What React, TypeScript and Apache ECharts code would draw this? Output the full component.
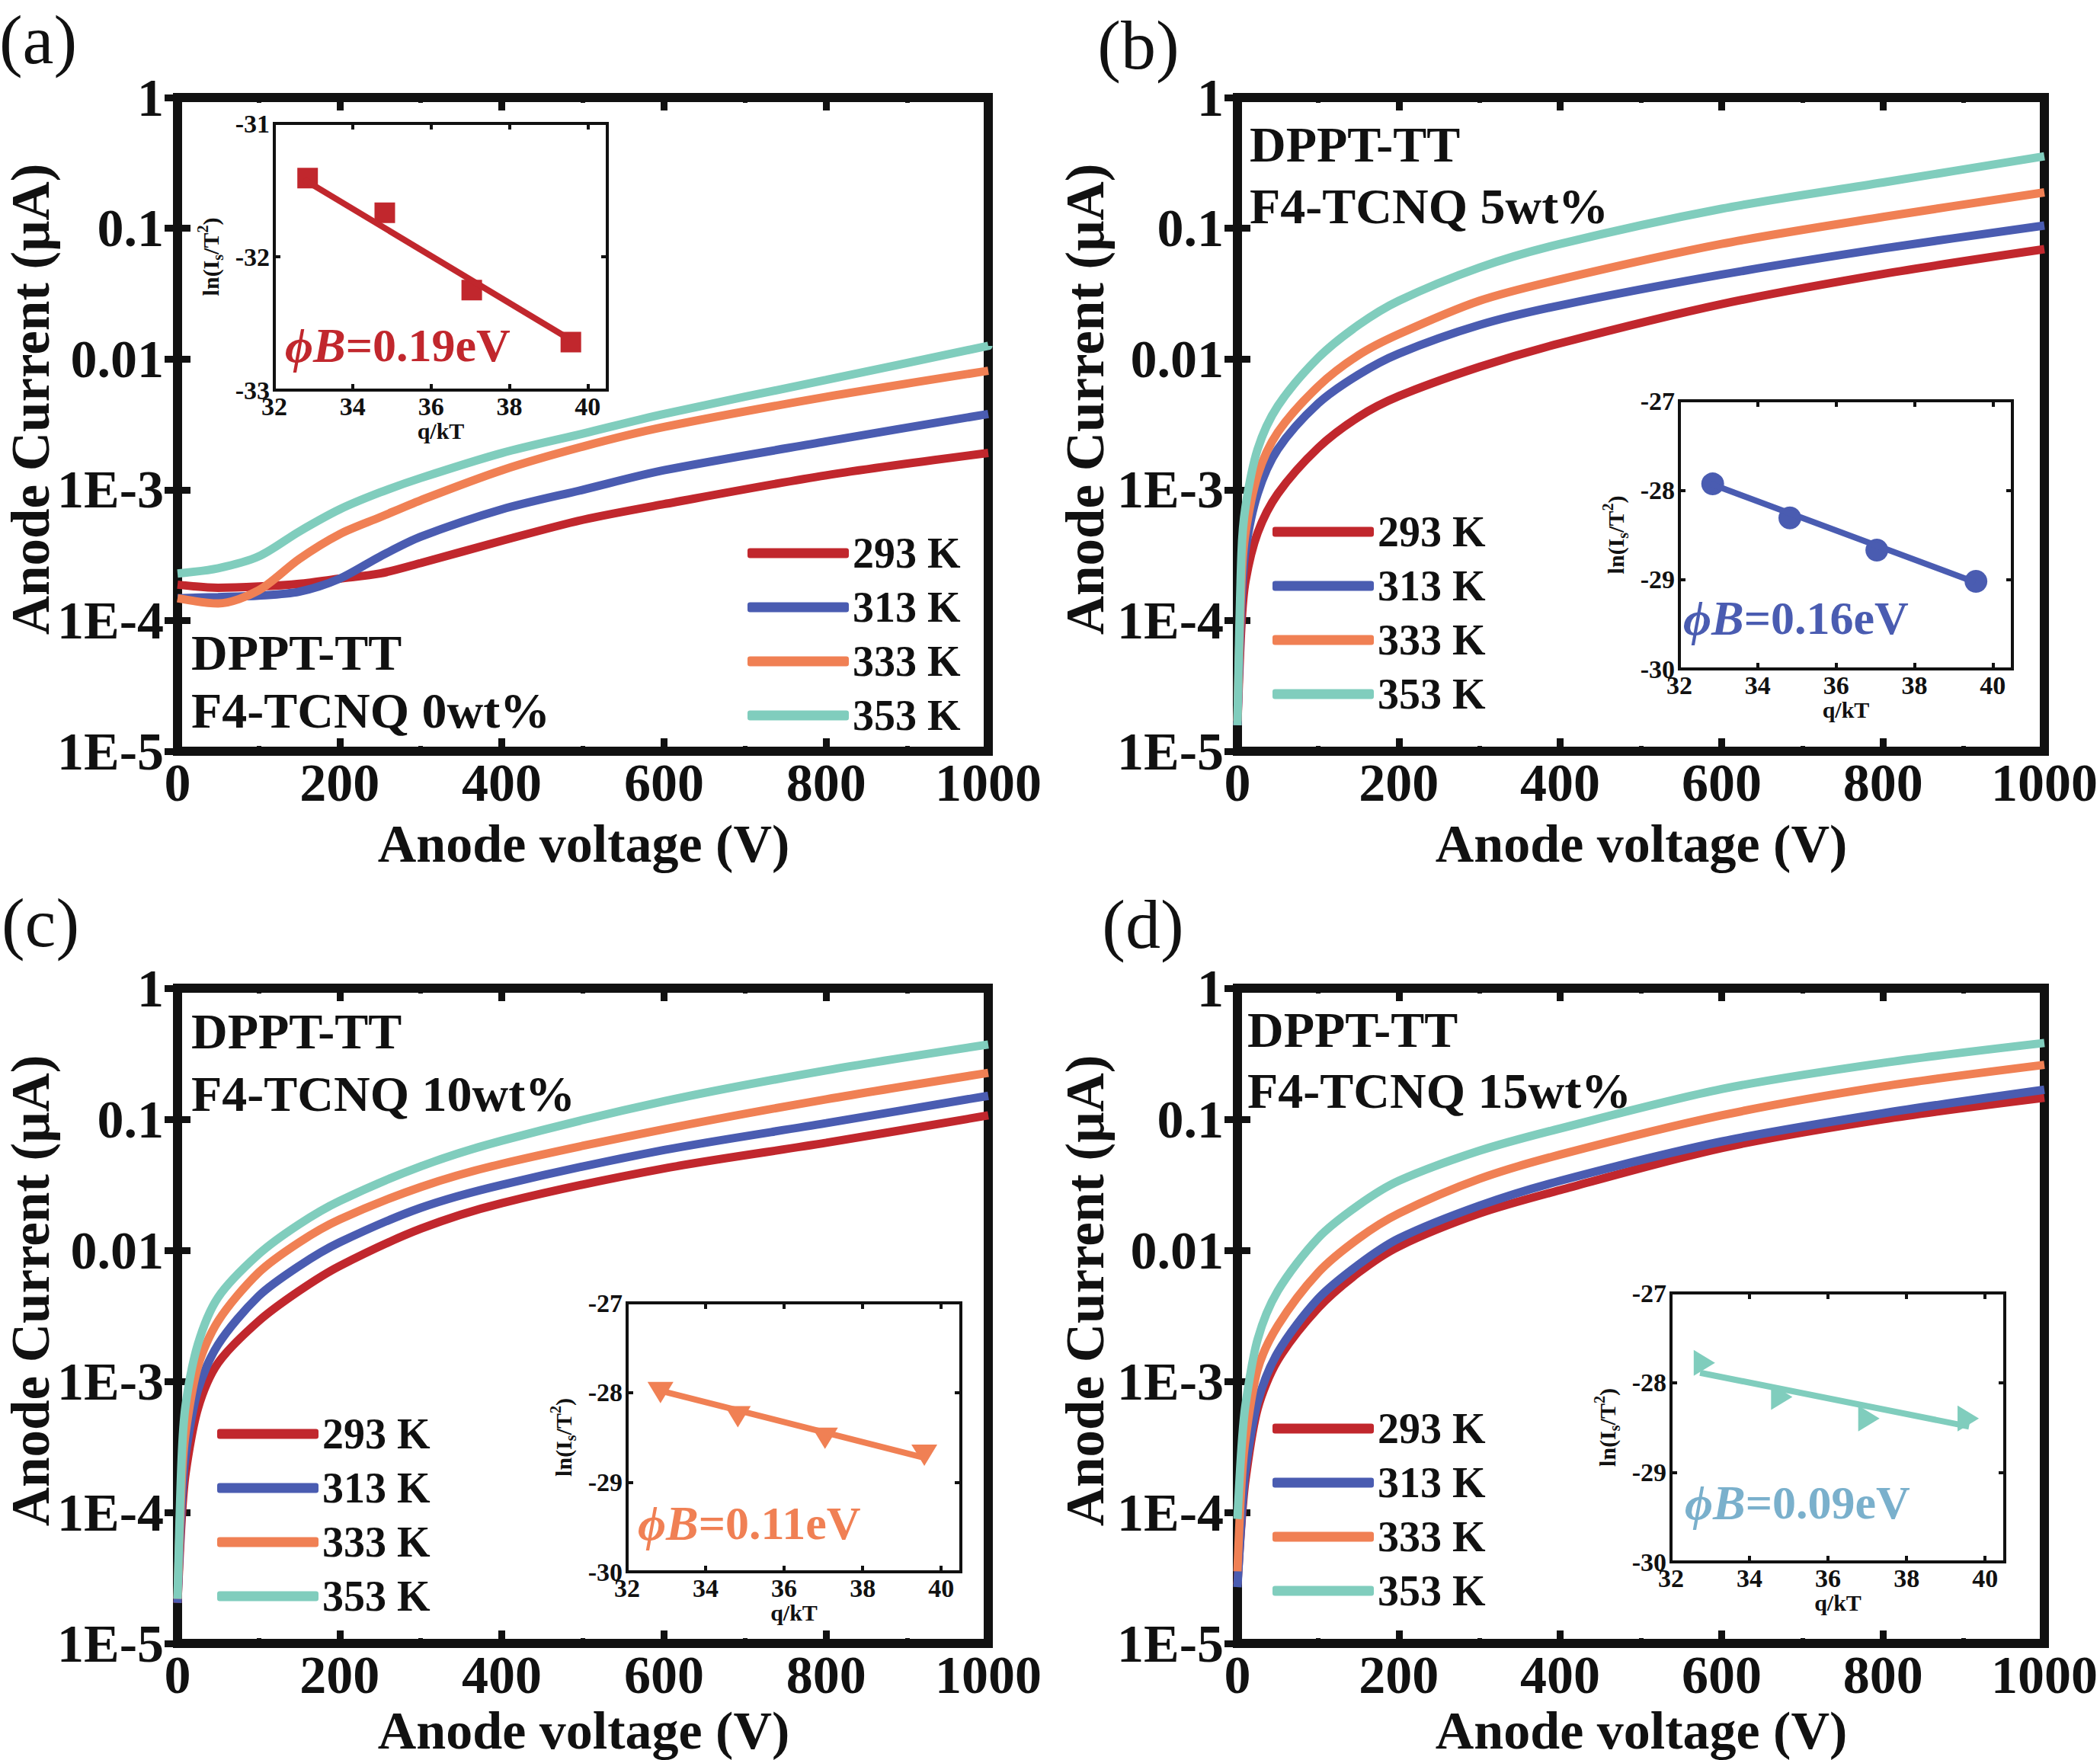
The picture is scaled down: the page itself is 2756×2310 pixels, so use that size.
import { useEffect, useRef } from "react";
import * as echarts from "echarts";

const FONT = '"Liberation Serif", "Times New Roman", serif';
const INK = "#111";

const temps = ["293 K", "313 K", "333 K", "353 K"];
const colors = ["#c1272d", "#4a5cb1", "#f08054", "#80cdbd"];
const yTickLabels = ["1E-5", "1E-4", "1E-3", "0.01", "0.1", "1"];

// anode voltage samples (V)
const voltsA = [0, 50, 100, 150, 200, 250, 300, 400, 500, 600, 800, 1000];
const voltsDoped = [0, 5, 10, 25, 50, 100, 150, 200, 300, 400, 600, 800, 1000];

// (a) F4-TCNQ 0wt%, anode current (uA)
const a293 = [1.88e-4, 1.78e-4, 1.82e-4, 1.91e-4, 2.09e-4, 2.29e-4, 2.75e-4, 4.07e-4, 5.89e-4, 7.76e-4, 1.29e-3, 1.91e-3];
const a313 = [1.48e-4, 1.51e-4, 1.55e-4, 1.66e-4, 2.09e-4, 3.09e-4, 4.37e-4, 7.08e-4, 1.0e-3, 1.41e-3, 2.34e-3, 3.8e-3];
const a333 = [1.48e-4, 1.35e-4, 1.7e-4, 2.95e-4, 4.57e-4, 6.17e-4, 8.32e-4, 1.41e-3, 2.14e-3, 3.02e-3, 5.13e-3, 8.13e-3];
const a353 = [2.29e-4, 2.51e-4, 3.09e-4, 4.79e-4, 7.08e-4, 9.55e-4, 1.23e-3, 1.91e-3, 2.69e-3, 3.8e-3, 6.92e-3, 1.26e-2];

// (b) 5wt%
const b293 = [1.58e-5, 9.3e-5, 2.0e-4, 4.68e-4, 9.33e-4, 2.09e-3, 3.6e-3, 5.2e-3, 8.7e-3, 1.32e-2, 2.63e-2, 4.47e-2, 6.92e-2];
const b313 = [1.58e-5, 1.38e-4, 3.47e-4, 9.33e-4, 2.04e-3, 4.57e-3, 7.59e-3, 1.1e-2, 1.82e-2, 2.57e-2, 4.42e-2, 7.0e-2, 0.105];
const b333 = [1.7e-5, 2.0e-4, 4.68e-4, 1.29e-3, 2.75e-3, 6.17e-3, 1.07e-2, 1.55e-2, 2.79e-2, 4.07e-2, 7.59e-2, 0.122, 0.188];
const b353 = [1.58e-5, 3.24e-4, 7.41e-4, 2.04e-3, 4.37e-3, 1.02e-2, 1.82e-2, 2.79e-2, 5.01e-2, 7.59e-2, 0.141, 0.224, 0.355];

// (c) 10wt%
const c293 = [2.04e-5, 8.71e-5, 2.0e-4, 6.17e-4, 1.38e-3, 2.88e-3, 4.9e-3, 7.59e-3, 1.46e-2, 2.29e-2, 4.21e-2, 6.61e-2, 0.107];
const c313 = [2.04e-5, 1.12e-4, 2.75e-4, 8.51e-4, 1.91e-3, 4.47e-3, 7.59e-3, 1.15e-2, 2.11e-2, 3.16e-2, 5.82e-2, 9.33e-2, 0.151];
const c333 = [2.19e-5, 1.66e-4, 4.07e-4, 1.29e-3, 2.88e-3, 6.76e-3, 1.15e-2, 1.72e-2, 3.04e-2, 4.57e-2, 8.39e-2, 0.142, 0.226];
const c353 = [2.19e-5, 2.51e-4, 6.61e-4, 1.91e-3, 4.37e-3, 9.33e-3, 1.58e-2, 2.38e-2, 4.37e-2, 6.86e-2, 0.137, 0.236, 0.372];

// (d) 15wt%
const d293 = [2.82e-5, 8.32e-5, 1.78e-4, 6.17e-4, 1.45e-3, 3.63e-3, 6.76e-3, 1.07e-2, 1.91e-2, 2.88e-2, 6.03e-2, 0.1, 0.146];
const d313 = [2.69e-5, 8.91e-5, 2.09e-4, 6.92e-4, 1.66e-3, 4.27e-3, 7.76e-3, 1.23e-2, 2.19e-2, 3.39e-2, 6.76e-2, 0.111, 0.168];
const d333 = [3.55e-5, 1.66e-4, 3.63e-4, 1.23e-3, 2.66e-3, 6.76e-3, 1.23e-2, 1.91e-2, 3.51e-2, 5.37e-2, 0.107, 0.178, 0.26];
const d353 = [8.91e-5, 3.09e-4, 6.61e-4, 2.09e-3, 4.9e-3, 1.24e-2, 2.21e-2, 3.39e-2, 5.75e-2, 8.51e-2, 0.17, 0.269, 0.382];

// insets: ln(Is/T^2) vs q/kT
const qkT = [32.85, 34.82, 37.04, 39.57];
const lnA = [-31.41, -31.67, -32.25, -32.64];
const lnB = [-27.93, -28.31, -28.67, -29.02];
const lnC = [-28.0, -28.27, -28.51, -28.7];
const lnD = [-27.78, -28.16, -28.4, -28.4];
const fitXA = [32.75, 39.55];
const fitYA = [-31.42, -32.62];
const fitXB = [32.8, 39.55];
const fitYB = [-27.93, -29.03];
const fitXC = [32.85, 39.5];
const fitYC = [-27.98, -28.72];
const fitXD = [32.74, 39.59];
const fitYD = [-27.89, -28.49];
const barriers = ["0.19", "0.16", "0.11", "0.09"];
const dopings = ["0wt%", "5wt%", "10wt%", "15wt%"];

const panels = [
    {
        tag: "(a)", tagPos: [50, 52],
        frame: { left: 233, top: 128, width: 1064, height: 858 },
        volts: voltsA, curves: [a293, a313, a333, a353],
        legendPos: [981, 697],
        textPos: [251, 856, 932],
        xTitle: [766, 1107], yTitle: [40, 524],
        inset: { left: 360, top: 162, width: 437, height: 350 },
        inY: [-33, -31], ln: lnA, fitX: fitXA, fitY: fitYA,
        symbol: "rect", symbolSize: 27, rotate: 0,
        phiPos: [374, 453], phiColor: "#c1272d", insetColor: "#c1272d",
    },
    {
        tag: "(b)", tagPos: [1494, 59],
        frame: { left: 1624, top: 128, width: 1060, height: 858 },
        volts: voltsDoped, curves: [b293, b313, b333, b353],
        legendPos: [1670, 669],
        textPos: [1640, 189, 270],
        xTitle: [2154, 1107], yTitle: [1424, 524],
        inset: { left: 2204, top: 526, width: 437, height: 352 },
        inY: [-30, -27], ln: lnB, fitX: fitXB, fitY: fitYB,
        symbol: "circle", symbolSize: 30, rotate: 0,
        phiPos: [2209, 811], phiColor: "#4a5cb1", insetColor: "#4a5cb1",
    },
    {
        tag: "(c)", tagPos: [53, 1211],
        frame: { left: 233, top: 1297, width: 1064, height: 860 },
        volts: voltsDoped, curves: [c293, c313, c333, c353],
        legendPos: [285, 1853],
        textPos: [251, 1353, 1435],
        xTitle: [766, 2271], yTitle: [40, 1694],
        inset: { left: 823, top: 1710, width: 438, height: 353 },
        inY: [-30, -27], ln: lnC, fitX: fitXC, fitY: fitYC,
        symbol: "triangle", symbolSize: [34, 28], rotate: 180,
        phiPos: [837, 1999], phiColor: "#f08054", insetColor: "#f08054",
    },
    {
        tag: "(d)", tagPos: [1500, 1213],
        frame: { left: 1624, top: 1297, width: 1060, height: 860 },
        volts: voltsDoped, curves: [d293, d313, d333, d353],
        legendPos: [1670, 1846],
        textPos: [1637, 1351, 1431],
        xTitle: [2154, 2271], yTitle: [1424, 1694],
        inset: { left: 2193, top: 1697, width: 438, height: 353 },
        inY: [-30, -27], ln: lnD, fitX: fitXD, fitY: fitYD,
        symbol: "triangle", symbolSize: [34, 28], rotate: -90,
        phiPos: [2211, 1972], phiColor: "#7ab0cc", insetColor: "#80cdbd",
    },
];

const bold = (size: number) => ({ fontFamily: FONT, fontWeight: "bold" as const, fontSize: size, color: INK });

function mainX(gridIndex: number, position: "bottom" | "top", labels: boolean) {
    return {
        type: "value", gridIndex, position, min: 0, max: 1000, interval: 200,
        axisLine: { show: false },
        splitLine: { show: false },
        axisTick: { show: true, inside: true, length: 17, lineStyle: { color: INK, width: 9 } },
        minorTick: { show: true, splitNumber: 2, length: 7, lineStyle: { color: INK, width: 6 } },
        axisLabel: {
            show: labels, margin: 13, ...bold(70), lineHeight: 56,
            formatter: (v: number) => String(v),
        },
    };
}

function mainY(gridIndex: number, position: "left" | "right", labels: boolean) {
    return {
        type: "log", logBase: 10, gridIndex, position, min: 1e-5, max: 1, splitNumber: 5,
        axisLine: { show: false },
        splitLine: { show: false },
        axisTick: { show: true, inside: true, length: 17, lineStyle: { color: INK, width: 9 } },
        axisLabel: {
            show: labels, margin: 18, ...bold(70), lineHeight: 60,
            formatter: (v: number) => yTickLabels[Math.round(Math.log10(v)) + 5] ?? "",
        },
    };
}

function insetX(gridIndex: number, position: "bottom" | "top", labels: boolean) {
    return {
        type: "value", gridIndex, position, min: 32, max: 40.5, interval: 2,
        name: labels ? "q/kT" : "", nameLocation: "middle", nameGap: 34,
        nameTextStyle: bold(30),
        axisLine: { show: false },
        splitLine: { show: false },
        axisTick: { show: true, inside: true, length: 8, lineStyle: { color: INK, width: 4 } },
        axisLabel: {
            show: labels, margin: 4, showMaxLabel: false, ...bold(34),
            formatter: (v: number) => (Number.isInteger(v) ? String(v) : ""),
        },
    };
}

function insetY(gridIndex: number, position: "left" | "right", labels: boolean, range: number[]) {
    return {
        type: "value", gridIndex, position, min: range[0], max: range[1], interval: 1,
        name: labels ? "ln(I{s|s}/T{p|2})" : "", nameLocation: "middle", nameGap: 64,
        nameTextStyle: {
            ...bold(30), lineHeight: 40,
            rich: {
                s: { ...bold(20), lineHeight: 20, verticalAlign: "bottom" },
                p: { ...bold(20), lineHeight: 20, verticalAlign: "top" },
            },
        },
        axisLine: { show: false },
        splitLine: { show: false },
        axisTick: { show: true, inside: true, length: 8, lineStyle: { color: INK, width: 4 } },
        axisLabel: { show: labels, margin: 6, ...bold(34) },
    };
}

function textEl(x: number, y: number, text: string, size: number, extra: object = {}) {
    return {
        type: "text", x, y, z: 10,
        style: {
            text, fontFamily: FONT, fontWeight: "bold", fontSize: size, fill: INK,
            align: "left", verticalAlign: "middle", ...extra,
        },
    };
}

function buildOption(): echarts.EChartsOption {
    const grid: any[] = [];
    const xAxis: any[] = [];
    const yAxis: any[] = [];
    const series: any[] = [];
    const legend: any[] = [];
    const graphic: any[] = [];

    panels.forEach((p, i) => {
        // main plot
        const g = grid.length;
        grid.push({ ...p.frame, show: true, borderColor: INK, borderWidth: 12, backgroundColor: "transparent" });
        const xi = xAxis.length;
        xAxis.push(mainX(g, "bottom", true), mainX(g, "top", false));
        const yi = yAxis.length;
        yAxis.push(mainY(g, "left", true), mainY(g, "right", false));
        p.curves.forEach((cur, k) => {
            series.push({
                type: "line", name: temps[k], xAxisIndex: xi, yAxisIndex: yi,
                data: p.volts.map((v, j) => [v, cur[j]]),
                smooth: 0.3, showSymbol: false, symbol: "none",
                lineStyle: { width: 11, color: colors[k] },
                itemStyle: { color: colors[k] },
            });
        });
        legend.push({
            orient: "vertical", left: p.legendPos[0], top: p.legendPos[1], padding: 0,
            itemWidth: 133, itemHeight: 13, itemGap: 13, icon: "roundRect", selectedMode: false,
            data: temps,
            textStyle: { ...bold(56), lineHeight: 58 },
        });

        // inset
        const ig = grid.length;
        grid.push({ ...p.inset, show: true, borderColor: INK, borderWidth: 4, backgroundColor: "#fff" });
        const ixi = xAxis.length;
        xAxis.push(insetX(ig, "bottom", true), insetX(ig, "top", false));
        const iyi = yAxis.length;
        yAxis.push(insetY(ig, "left", true, p.inY), insetY(ig, "right", false, p.inY));
        series.push({
            type: "line", name: "fit " + p.tag, xAxisIndex: ixi, yAxisIndex: iyi,
            data: p.fitX.map((x, j) => [x, p.fitY[j]]),
            showSymbol: false, symbol: "none",
            lineStyle: { width: 8, color: p.insetColor },
        });
        series.push({
            type: "scatter", name: "ln(Is/T2) " + p.tag, xAxisIndex: ixi, yAxisIndex: iyi,
            data: qkT.map((x, j) => [x, p.ln[j]]),
            symbol: p.symbol, symbolSize: p.symbolSize, symbolRotate: p.rotate,
            itemStyle: { color: p.insetColor, opacity: 1 },
        });

        // texts
        graphic.push({
            type: "text", x: p.tagPos[0], y: p.tagPos[1], z: 10,
            style: {
                text: p.tag, fontFamily: FONT, fontWeight: "normal", fontSize: 92, fill: INK,
                align: "center", verticalAlign: "middle",
            },
        });
        graphic.push(textEl(p.textPos[0], p.textPos[1], "DPPT-TT", 66));
        graphic.push(textEl(p.textPos[0], p.textPos[2], "F4-TCNQ " + dopings[i], 66));
        graphic.push(textEl(p.xTitle[0], p.xTitle[1], "Anode voltage (V)", 70, { align: "center", lineHeight: 56 }));
        graphic.push({
            ...textEl(p.yTitle[0], p.yTitle[1], "Anode Current (μA)", 71, { align: "center", lineHeight: 60 }),
            rotation: Math.PI / 2,
        });
        graphic.push({
            type: "text", x: p.phiPos[0], y: p.phiPos[1], z: 10,
            style: {
                text: "{i|ϕB}{n|=" + barriers[i] + "eV}",
                fill: p.phiColor, align: "left", verticalAlign: "middle",
                rich: {
                    i: { fontFamily: FONT, fontWeight: "bold", fontStyle: "italic", fontSize: 64, fill: p.phiColor },
                    n: { fontFamily: FONT, fontWeight: "bold", fontSize: 62, fill: p.phiColor },
                },
            },
        });
    });

    return {
        animation: false,
        backgroundColor: "#fff",
        grid, xAxis, yAxis, series, legend, graphic,
    };
}

function App() {
    const chartRef = useRef<HTMLDivElement | null>(null);

    useEffect(() => {
        if (!chartRef.current) return;
        const chart = echarts.init(chartRef.current, undefined, { renderer: "svg" });
        chart.setOption(buildOption());
        return () => chart.dispose();
    }, []);

    return (
        <div
            ref={chartRef}
            style={{ position: "absolute", left: 0, top: 0, width: "2756px", height: "2310px", background: "#fff" }}
        />
    );
}

export default App;
